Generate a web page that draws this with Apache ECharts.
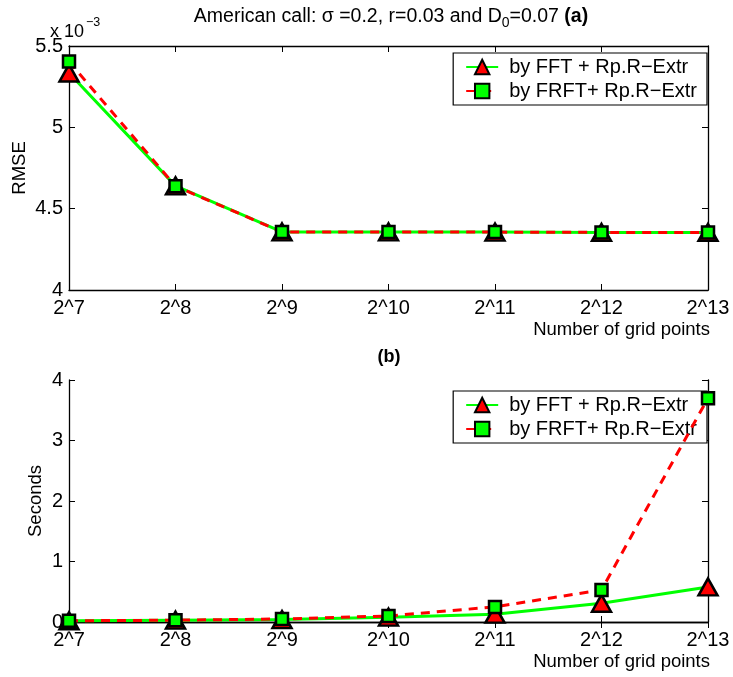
<!DOCTYPE html>
<html>
<head>
<meta charset="utf-8">
<script src="https://cdn.jsdelivr.net/npm/echarts@6/dist/echarts.min.js"></script>
<style>
  html, body { margin: 0; padding: 0; background: #fff; }
  #chart { width: 733px; height: 677px; }
</style>
</head>
<body>
<div id="chart"></div>
<script>
// Grid sizes on the horizontal axis
const gridPoints = ['2^7', '2^8', '2^9', '2^10', '2^11', '2^12', '2^13'];

// Panel (a): RMSE, in units of 1e-3
const rmseFFT  = [5.334, 4.640, 4.357, 4.357, 4.356, 4.354, 4.354];
const rmseFRFT = [5.404, 4.638, 4.357, 4.357, 4.356, 4.354, 4.354];

// Panel (b): CPU time in seconds
const secFFT  = [0.02, 0.03, 0.04, 0.08, 0.13, 0.31, 0.58];
const secFRFT = [0.02, 0.03, 0.05, 0.10, 0.25, 0.53, 3.70];

// Y tick values
const rmseTicks = [4, 4.5, 5, 5.5];
const secTicks  = [0, 1, 2, 3, 4];

const nameFFT  = 'by FFT + Rp.R\u2212Extr';
const nameFRFT = 'by FRFT+ Rp.R\u2212Extr';

const FONT = '"Liberation Sans", Arial, Helvetica, sans-serif';
const GREEN = '#00ff00', RED = '#ff0000', BLACK = '#000';

const chart = echarts.init(document.getElementById('chart'), null, { renderer: 'canvas' });

function bottomX(grid) {
  return {
    gridIndex: grid, type: 'category', data: gridPoints, boundaryGap: false,
    axisLine: { lineStyle: { color: BLACK, width: 1.3 } },
    axisTick: { inside: true, length: 6, lineStyle: { color: BLACK } },
    axisLabel: { color: BLACK, fontSize: 20, fontFamily: FONT, margin: 8 },
    splitLine: { show: false },
    name: 'Number of grid points', nameLocation: 'end', nameGap: 2, nameMoveOverlap: false,
    nameTextStyle: { color: BLACK, fontSize: 18.5, fontFamily: FONT, align: 'right',
                     verticalAlign: 'top', padding: [30, 0, 0, 0] }
  };
}
function topX(grid) {
  return {
    gridIndex: grid, type: 'category', data: gridPoints, boundaryGap: false, position: 'top',
    axisLine: { lineStyle: { color: BLACK, width: 1.3 } },
    axisTick: { inside: true, length: 6, lineStyle: { color: BLACK } },
    axisLabel: { show: false }, splitLine: { show: false }
  };
}
function leftY(grid, ticks, name, gap) {
  const min = ticks[0], max = ticks[ticks.length - 1];
  return {
    gridIndex: grid, type: 'value', min: min, max: max, interval: ticks[1] - ticks[0],
    axisLine: { show: true, lineStyle: { color: BLACK, width: 1.3 } },
    axisTick: { show: true, inside: true, length: 6, lineStyle: { color: BLACK } },
    axisLabel: { color: BLACK, fontSize: 20, fontFamily: FONT, margin: 6, formatter: v => String(v) },
    splitLine: { show: false },
    name: name, nameLocation: 'middle', nameGap: gap, nameMoveOverlap: false,
    nameTextStyle: { color: BLACK, fontSize: 18.5, fontFamily: FONT }
  };
}
function rightY(grid, ticks) {
  const min = ticks[0], max = ticks[ticks.length - 1];
  return {
    gridIndex: grid, type: 'value', position: 'right', min: min, max: max, interval: ticks[1] - ticks[0],
    axisLine: { show: true, lineStyle: { color: BLACK, width: 1.3 } },
    axisTick: { show: true, inside: true, length: 6, lineStyle: { color: BLACK } },
    axisLabel: { show: false }, splitLine: { show: false }
  };
}

function fftSeries(xi, yi, data) {
  return {
    name: nameFFT, type: 'line', xAxisIndex: xi, yAxisIndex: yi, data: data,
    clip: false, z: 3,
    lineStyle: { color: GREEN, width: 3 },
    symbol: 'triangle', symbolSize: [19, 17],
    itemStyle: { color: RED, borderColor: BLACK, borderWidth: 2.5 },
    emphasis: { disabled: true }, animation: false
  };
}
function frftSeries(xi, yi, data) {
  return {
    name: nameFRFT, type: 'line', xAxisIndex: xi, yAxisIndex: yi, data: data,
    clip: false, z: 4,
    lineStyle: { color: RED, width: 3, type: [9, 7] },
    symbol: 'rect', symbolSize: 12,
    itemStyle: { color: GREEN, borderColor: BLACK, borderWidth: 2.5 },
    emphasis: { disabled: true }, animation: false
  };
}

function legendAt(top) {
  return {
    orient: 'vertical', right: 26, top: top, selectedMode: false,
    data: [nameFFT, nameFRFT],
    backgroundColor: '#fff', borderColor: BLACK, borderWidth: 1.2,
    padding: [4, 10, 4, 12], itemGap: 4, itemWidth: 32, itemHeight: 18,
    textStyle: { color: BLACK, fontSize: 20, fontFamily: FONT, padding: [0, 0, 0, 6] }
  };
}

chart.setOption({
  animation: false,
  backgroundColor: '#fff',
  grid: [
    { left: 69, top: 46, width: 639, height: 244 },
    { left: 69, top: 380, width: 639, height: 242 }
  ],
  xAxis: [bottomX(0), bottomX(1), topX(0), topX(1)],
  yAxis: [leftY(0, rmseTicks, 'RMSE', 40), leftY(1, secTicks, 'Seconds', 24),
          rightY(0, rmseTicks), rightY(1, secTicks)],
  legend: [legendAt(53), legendAt(391)],
  series: [
    fftSeries(0, 0, rmseFFT), frftSeries(0, 0, rmseFRFT),
    fftSeries(1, 1, secFFT), frftSeries(1, 1, secFRFT)
  ],
  graphic: [
    {
      type: 'text', x: 391, y: 3,
      style: {
        text: 'American call: \u03c3 =0.2, r=0.03 and D{sub|0}=0.07 {b|(a)}',
        fontSize: 19.5, fontFamily: FONT, fill: BLACK, align: 'center',
        rich: {
          sub: { fontSize: 14, fontFamily: FONT, padding: [13, 0, 0, 0] },
          b: { fontSize: 19.5, fontFamily: FONT, fontWeight: 'bold' }
        }
      }
    },
    {
      type: 'text', x: 50, y: 23,
      style: { text: 'x 10', fontSize: 18, fontFamily: FONT, fill: BLACK }
    },
    {
      type: 'text', x: 86, y: 16,
      style: { text: '\u22123', fontSize: 12.5, fontFamily: FONT, fill: BLACK }
    },
    {
      type: 'text', x: 389, y: 348,
      style: { text: '(b)', fontSize: 18, fontFamily: FONT, fontWeight: 'bold', fill: BLACK, align: 'center' }
    }
  ]
});
</script>
</body>
</html>
